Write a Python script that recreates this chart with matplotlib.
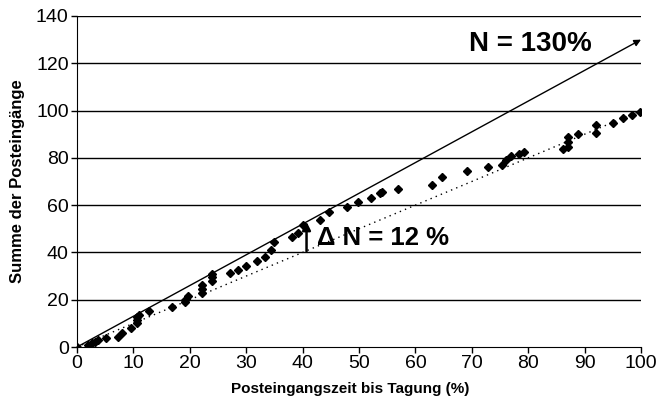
import numpy as np
import matplotlib
matplotlib.use("Agg")
import matplotlib.pyplot as plt

plt.rcParams['font.family'] = ['Liberation Sans', 'DejaVu Sans']

# Posteingaenge: Zeitpunkt (% der Zeit bis zur Tagung) und kumulierte Summe
zeit = [0, 2.0, 2.6, 3.2, 3.7, 5.1, 7.2, 7.9, 9.6, 10.6, 10.6, 10.6, 11.0,
        12.8, 16.9, 19.1, 19.1, 19.7, 22.2, 22.2, 22.2, 24.0, 24.0, 24.0,
        27.1, 28.6, 30.0, 32.0, 33.3, 34.4, 35.0, 38.2, 39.2, 40.0, 43.0,
        44.6, 47.8, 49.9, 52.2, 53.7, 54.0, 57.0, 62.9, 64.8, 69.2, 72.9,
        75.3, 76.1, 76.9, 78.4, 79.3, 86.1, 87.1, 87.1, 87.1, 88.8, 92.1,
        92.1, 95.1, 96.8, 98.4, 99.9]
summe = [0, 0.8, 1.5, 2.2, 3.0, 3.7, 4.4, 5.8, 7.9, 10.0, 11.4, 12.8, 13.5,
         15.4, 17.0, 19.2, 19.9, 21.6, 22.7, 24.5, 26.2, 28.0, 29.7, 31.0,
         31.2, 32.6, 34.4, 36.4, 38.2, 41.0, 44.5, 46.4, 48.4, 51.6, 53.7,
         57.2, 59.1, 61.5, 62.9, 65.3, 65.7, 66.7, 68.5, 72.0, 74.6, 76.3,
         77.0, 79.1, 80.8, 81.6, 82.6, 83.6, 84.6, 86.7, 88.8, 90.1, 90.5,
         93.9, 94.9, 96.7, 98.1, 99.5]

fig = plt.figure(figsize=(6.59, 4.07), dpi=100)
ax = fig.add_axes([0.1168, 0.1474, 0.8559, 0.8133])

for y in range(20, 141, 20):
    ax.axhline(y, color='black', lw=1.0, zorder=1)

# Gleichverteilung (gepunktet) und 130%-Linie mit Pfeil
ax.plot([0, 100], [0, 100], color='black', ls=(0, (1, 3)), lw=1.0, zorder=2)
ax.annotate('', xy=(100, 130), xytext=(0, 0),
            arrowprops=dict(arrowstyle='-|>', color='black', lw=1.0,
                            mutation_scale=10, shrinkA=0, shrinkB=0), zorder=2)

ax.plot(zeit, summe, ls='none', marker='D', ms=4, color='black', zorder=3)

ax.annotate('', xy=(40.7, 53), xytext=(40.7, 40.5),
            arrowprops=dict(arrowstyle='-|>', color='black', lw=1.8,
                            mutation_scale=12, shrinkA=0, shrinkB=0))
ax.text(42.6, 46, '\u0394 N = 12 %', fontsize=18.5, fontweight='bold', va='center')
ax.text(69.5, 128, 'N = 130%', fontsize=20, fontweight='bold', va='center')

ax.set_xlim(0, 100)
ax.set_ylim(0, 140)
ax.set_xticks(range(0, 101, 10))
ax.set_yticks(range(0, 141, 20))
ax.tick_params(labelsize=14, direction='out', length=4, width=1, pad=2)
ax.spines['right'].set_visible(False)
ax.spines['top'].set_visible(False)
ax.set_xlabel('Posteingangszeit bis Tagung (%)', fontsize=11, fontweight='bold',
              labelpad=5)
ax.xaxis.set_label_coords(0.484, -0.105)
ax.set_ylabel('Summe der Posteingänge', fontsize=12, fontweight='bold',
              labelpad=8)

fig.savefig('out.png', dpi=100)
